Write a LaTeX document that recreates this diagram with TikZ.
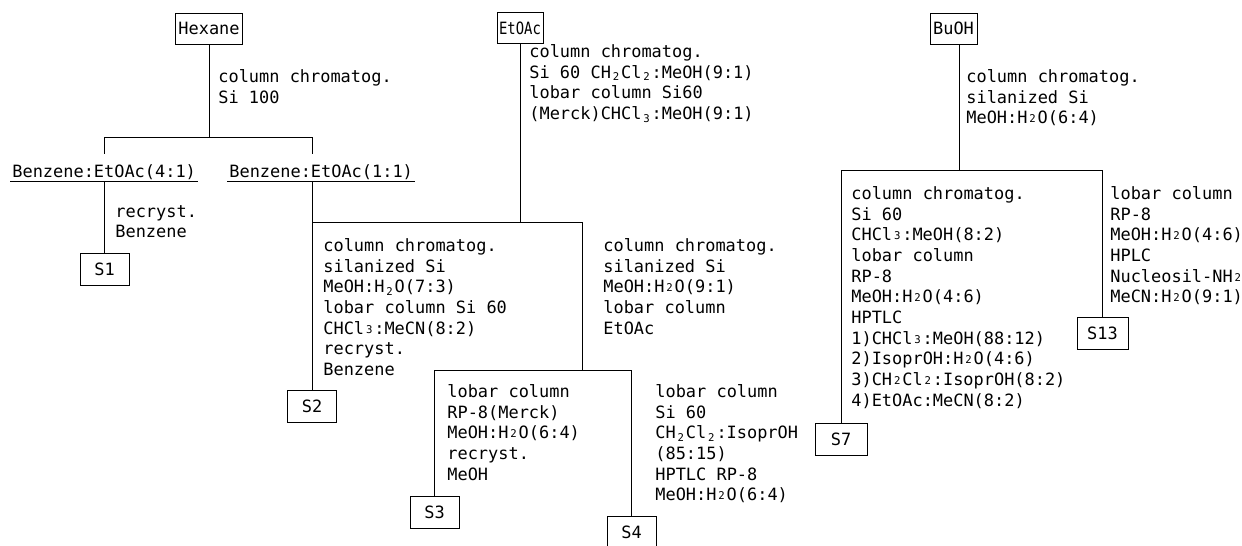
\documentclass[tikz,border=0pt]{standalone}
\usepackage{graphicx}
\usepackage{fontspec}
\usepackage{tikz}
\newfontfamily\tw{DejaVu Sans Mono}
\newcommand\twfont{\tw\fontsize{12.7pt}{15.5pt}\selectfont}
\newcommand\lo[1]{\makebox[0.6em][c]{\raisebox{-0.3ex}{\fontsize{8}{8}\selectfont #1}}}
\newcommand\sm[1]{\makebox[0.6em][c]{\raisebox{0.1ex}{\fontsize{8}{8}\selectfont #1}}}
\tikzset{
  solvent/.style={draw,font=\twfont,inner xsep=2.25pt,inner ysep=0pt,minimum height=23.25pt},
  sample/.style={draw,font=\twfont,inner sep=0pt,minimum width=36.75pt,minimum height=24pt},
  proc/.style={anchor=north west,inner sep=0pt,align=left,font=\twfont},
  frac/.style={anchor=base west,font=\twfont,inner xsep=1.5pt,inner ysep=0pt,
    text height=17.25pt,text depth=3pt},
}
\begin{document}
\begin{tikzpicture}[x=.75pt,y=-.75pt,line width=.6pt]
\useasboundingbox (0,0) rectangle (1242,546);
% extracts
\node[solvent] (hex) at (209,28.5) {Hexane};
\node[solvent,inner xsep=1.5pt] (eto) at (520,28) {\scalebox{.82}[1]{EtOAc}};
\node[solvent] (buoh) at (953.5,28.5) {BuOH};
% fractions
\node[frac] (f41) at (10,177) {Benzene:EtOAc(4:1)};
\node[frac] (f11) at (227,177) {Benzene:EtOAc(1:1)};
% compounds
\node[sample] (s1) at (104.5,269) {S1};
\node[sample] (s2) at (312,406) {S2};
\node[sample] (s3) at (434.5,512.5) {S3};
\node[sample] (s4) at (631.5,532.5) {S4};
\node[sample,minimum width=39pt] (s7) at (841,439) {S7};
\node[sample,minimum width=38.25pt] (s13) at (1102.5,333) {S13};
% branch points
\coordinate (hb) at (208,137);
\coordinate (eb) at (521,222);
\coordinate (ej) at (582,370);
\coordinate (bb) at (959,170);
\draw (hex.south) -- (hex.south |- hb);
\draw (s1 |- f41.north) -- (s1 |- hb) -- (s2 |- hb) -- (s2 |- f11.north);
\draw (f41.south west) -- (f41.south east);
\draw (f11.south west) -- (f11.south east);
\draw (s1 |- f41.south) -- (s1.north);
\draw (s2 |- f11.south) -- (s2.north);
\draw (eto.south) -- (eto.south |- eb);
\draw (s2 |- eb) -- (ej |- eb) -- (ej);
\draw (s3.north) -- (s3 |- ej) -- (s4 |- ej) -- (s4.north);
\draw (bb |- buoh.south) -- (bb);
\draw (s7.north) -- (s7 |- bb) -- (s13 |- bb) -- (s13.north);
% separation steps
\node[proc] (lhex) at (218,69) {column chromatog.\\Si 100};
\node[proc] (leto) at (529,44) {column chromatog.\\Si 60 CH\lo2Cl\lo2:MeOH(9:1)\\lobar column Si60\\(Merck)CHCl\lo3:MeOH(9:1)};
\node[proc] (lbuoh) at (966,69) {column chromatog.\\silanized Si\\MeOH:H\sm2O(6:4)};
\node[proc] (ls1) at (115,205) {recryst.\\Benzene};
\node[proc] (ls2) at (323,238) {column chromatog.\\silanized Si\\MeOH:H\lo2O(7:3)\\lobar column Si 60\\CHCl\sm3:MeCN(8:2)\\recryst.\\Benzene};
\node[proc] (ls2b) at (603,238) {column chromatog.\\silanized Si\\MeOH:H\sm2O(9:1)\\lobar column\\EtOAc};
\node[proc] (ls3) at (447,384) {lobar column\\RP-8(Merck)\\MeOH:H\sm2O(6:4)\\recryst.\\MeOH};
\node[proc] (ls4) at (655,384) {lobar column\\Si 60\\CH\lo2Cl\lo2:IsoprOH\\(85:15)\\HPTLC RP-8\\MeOH:H\sm2O(6:4)};
\node[proc] (ls7) at (851,186) {column chromatog.\\Si 60\\CHCl\sm3:MeOH(8:2)\\lobar column\\RP-8\\MeOH:H\sm2O(4:6)\\HPTLC\\1)CHCl\sm3:MeOH(88:12)\\2)IsoprOH:H\sm2O(4:6)\\3)CH\sm2Cl\sm2:IsoprOH(8:2)\\4)EtOAc:MeCN(8:2)};
\node[proc] (ls13) at (1110,186) {lobar column\\RP-8\\MeOH:H\sm2O(4:6)\\HPLC\\Nucleosil-NH\sm2\\MeCN:H\sm2O(9:1)};
\end{tikzpicture}
\end{document}
